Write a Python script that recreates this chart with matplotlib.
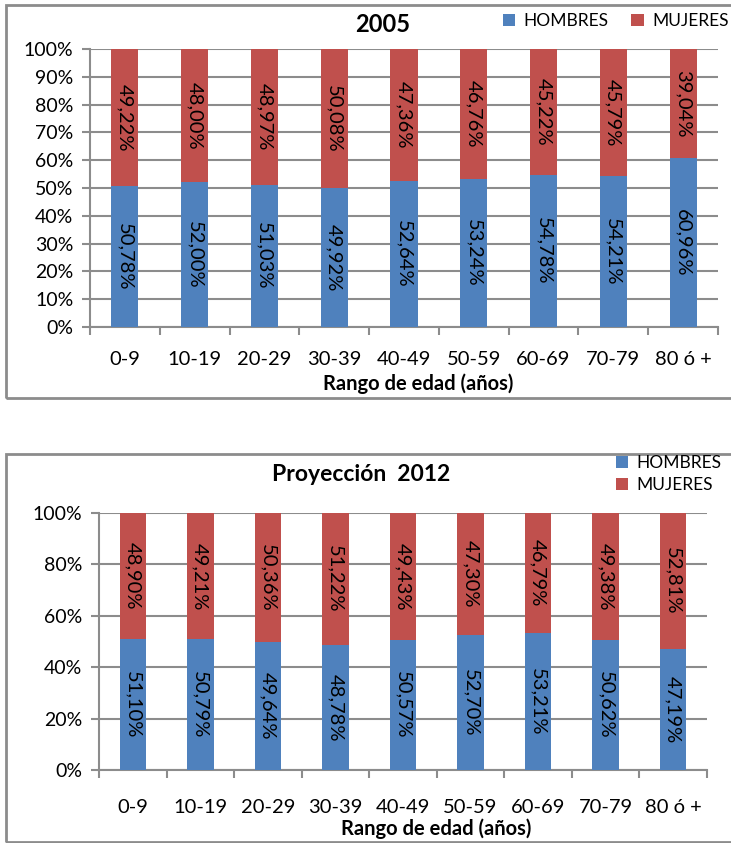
"""Distribución por sexo según rango de edad - 2005 y proyección 2012"""

import matplotlib.pyplot as plt
from matplotlib.patches import Rectangle
import matplotlib.ticker as ticker
import numpy as np

plt.rcParams["font.family"] = ["Lato", "DejaVu Sans"]

categorias = ["0-9", "10-19", "20-29", "30-39", "40-49", "50-59", "60-69", "70-79", "80 ó +"]
hombres_2005 = [50.78, 52.00, 51.03, 49.92, 52.64, 53.24, 54.78, 54.21, 60.96]
mujeres_2005 = [49.22, 48.00, 48.97, 50.08, 47.36, 46.76, 45.22, 45.79, 39.04]
hombres_2012 = [51.10, 50.79, 49.64, 48.78, 50.57, 52.70, 53.21, 50.62, 47.19]
mujeres_2012 = [48.90, 49.21, 50.36, 51.22, 49.43, 47.30, 46.79, 49.38, 52.81]

AZUL = "#4F81BD"
ROJO = "#C0504D"
GRIS = "#8c8c8c"


def fmt(v):
    return f"{v:.2f}".replace(".", ",") + "%"


def draw_chart(ax, hombres, mujeres, ystep, xpad):
    x = np.arange(len(categorias))
    b1 = ax.bar(x, hombres, width=0.39, color=AZUL, label="HOMBRES", zorder=3)
    b2 = ax.bar(x, mujeres, width=0.39, bottom=hombres, color=ROJO, label="MUJERES", zorder=3)
    for i in range(len(x)):
        ax.text(x[i], hombres[i] / 2, fmt(hombres[i]), rotation=270, ha="center",
                va="center", fontsize=14.5, zorder=4)
        ax.text(x[i], hombres[i] + mujeres[i] / 2, fmt(mujeres[i]), rotation=270,
                ha="center", va="center", fontsize=14.5, zorder=4)
    ax.set_xlim(-0.5, len(x) - 0.5)
    ax.set_ylim(0, 100)
    ax.yaxis.set_major_locator(ticker.MultipleLocator(ystep))
    ax.yaxis.set_major_formatter(ticker.FuncFormatter(lambda v, p: f"{v:.0f}%"))
    ax.set_xticks(x)
    ax.set_xticklabels(categorias)
    ax.set_xticks(np.arange(-0.5, len(x)), minor=True)
    ax.tick_params(axis="x", which="major", length=0, pad=xpad, labelsize=14.5)
    ax.tick_params(axis="x", which="minor", length=6, width=1.5, color=GRIS)
    ax.tick_params(axis="y", length=6, width=1.5, color=GRIS, pad=6, labelsize=14)
    ax.grid(axis="y", color=GRIS, linewidth=1.5, zorder=0)
    for s in ["top", "right"]:
        ax.spines[s].set_visible(False)
    ax.spines["left"].set_color(GRIS)
    ax.spines["bottom"].set_color(GRIS)
    ax.spines["left"].set_linewidth(1.5)
    ax.spines["bottom"].set_linewidth(1.5)
    return b1, b2


W, H = 731, 843
fig = plt.figure(figsize=(W / 100, H / 100), dpi=100)


def fx(px):
    return px / W


def fy(py):
    return 1 - py / H


# marcos
fig.patches.append(Rectangle((fx(6), fy(398)), fx(740), 393 / H, transform=fig.transFigure,
                             fill=False, edgecolor=GRIS, linewidth=2))
fig.patches.append(Rectangle((fx(6), fy(842)), fx(740), 388 / H, transform=fig.transFigure,
                             fill=False, edgecolor=GRIS, linewidth=2))

ax1 = fig.add_axes([fx(90), fy(327), fx(718 - 90), (327 - 49) / H])
h1 = draw_chart(ax1, hombres_2005, mujeres_2005, 10, 17)
fig.text(fx(383), fy(25), "2005", ha="center", va="center", fontsize=17, fontweight="bold")
fig.text(fx(418), fy(384), "Rango de edad (años)", ha="center", va="center",
         fontsize=14.5, fontweight="bold")
fig.legend(h1, ["HOMBRES", "MUJERES"], ncol=2, loc="center left",
           bbox_to_anchor=(fx(503), fy(21)), frameon=False, fontsize=12.5,
           handlelength=0.7, handleheight=0.7, handletextpad=0.5, columnspacing=1.3,
           borderaxespad=0, borderpad=0)

ax2 = fig.add_axes([fx(99), fy(770), fx(707 - 99), (770 - 513) / H])
h2 = draw_chart(ax2, hombres_2012, mujeres_2012, 20, 21)
fig.text(fx(361), fy(475), "Proyección  2012", ha="center", va="center", fontsize=16.5,
         fontweight="bold")
fig.text(fx(436), fy(829), "Rango de edad (años)", ha="center", va="center",
         fontsize=14.5, fontweight="bold")
fig.legend(h2, ["HOMBRES", "MUJERES"], ncol=1, loc="upper left",
           bbox_to_anchor=(fx(616), fy(455)), frameon=False, fontsize=12.5,
           handlelength=0.7, handleheight=0.7, handletextpad=0.5, labelspacing=0.35,
           borderaxespad=0, borderpad=0)

plt.savefig("out.png", dpi=100)
